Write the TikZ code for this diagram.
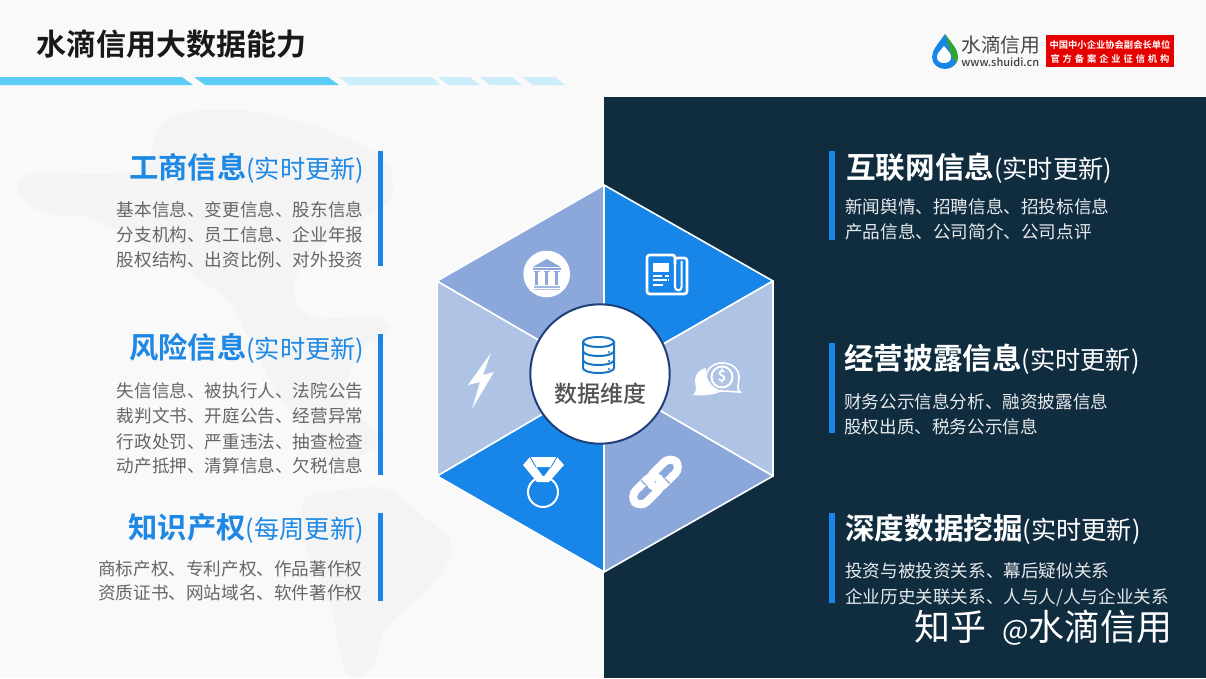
\documentclass[tikz,border=0pt]{standalone}
\usepackage{fontspec}
\setmainfont{Noto Sans CJK SC}
\newcommand{\px}[1]{\fontsize{\fpeval{#1*0.75}pt}{\fpeval{#1*0.9}pt}\selectfont}
\newcommand{\hb}{\fontspec{Noto Sans CJK SC Bold}}
\newcommand{\hr}{\fontspec{Noto Sans CJK SC}}
\definecolor{navy}{HTML}{102C3F}
\definecolor{bluea}{HTML}{1886E8}
\definecolor{blueb}{HTML}{8CA8DB}
\definecolor{bluec}{HTML}{AFC3E5}
\definecolor{ttl}{HTML}{1E88E5}
\definecolor{bgc}{HTML}{F9F9F9}
\definecolor{mapc}{HTML}{F4F4F4}
\definecolor{stripe}{HTML}{5BCDF5}
\definecolor{stripel}{HTML}{CDEDFB}
\definecolor{hubline}{HTML}{203F78}
\tikzset{
 face/.style={draw=white,line width=1.2pt,line join=round},
 head/.style={inner sep=0,anchor=base east,text=ttl},
 headr/.style={inner sep=0,anchor=base west,text=white},
 bodyl/.style={inner sep=0,anchor=base east,text=black!60},
 bodyr/.style={inner sep=0,anchor=base west,text=white!90!navy},
 barb/.style={fill=bluea,draw=none},
 dbl/.style={draw=ttl!85!black,line width=1.5pt,fill=none},
 mapb/.style={fill=mapc,rounded corners=12pt}
}
\begin{document}
\begin{tikzpicture}[x=0.75pt,y=-0.75pt]
\path[use as bounding box] (0,0) rectangle (1206,678);
\fill[bgc] (0,0) rectangle (1206,678);
% faint map
\fill[mapb] (10,185) -- (35,170) -- (100,175) -- (150,170) -- (155,125) -- (190,110) -- (250,110) -- (330,130) -- (390,160) -- (395,200) -- (350,225) -- (330,240) -- (300,265) -- (290,295) -- (310,320) -- (385,315) -- (395,335) -- (360,345) -- (340,400) -- (385,440) -- (340,470) -- (280,400) -- (230,300) -- (170,260) -- (90,215) -- (40,215) -- cycle;
\fill[mapb] (300,495) -- (385,485) -- (458,545) -- (430,590) -- (385,625) -- (370,678) -- (345,678) -- (330,600) -- (305,550) -- cycle;
% dark panel
\fill[navy] (604,97) rectangle (1206,678);
% title
\node[inner sep=0,anchor=base west,text=black!90] (title) at (36,55) {\px{30}\hb 水滴信用大数据能力};
% stripes
\fill[stripe] (0,77) -- (182,77) -- (193,85) -- (0,85) -- cycle;
\fill[stripe] (194,77) -- (328,77) -- (339,85) -- (205,85) -- cycle;
\fill[stripel] (339,77) -- (432,77) -- (440,85) -- (349,85) -- cycle;
\fill[stripel] (438,77) -- (470,77) -- (480,85) -- (448,85) -- cycle;
\fill[stripel] (480,77) -- (512,77) -- (522,85) -- (490,85) -- cycle;
\fill[stripel] (522,77) -- (555,77) -- (565,85) -- (533,85) -- cycle;
% logo
\fill[bluea] (945,34) .. controls (938,44) and (932,50) .. (932,57) .. controls (932,64) and (938,69) .. (945,69) .. controls (952,69) and (958,64) .. (958,57) .. controls (958,50) and (952,44) .. (945,34) -- cycle;
\fill[green!55!black!80] (945,34) .. controls (952,44) and (958,50) .. (958,57) .. controls (958,59) and (957.5,61) .. (956,63) -- (951,55) -- cycle;
\fill[white] (944,46) .. controls (941,50) and (937,53) .. (937,57) .. controls (937,61) and (940,63) .. (944,63) .. controls (948,63) and (951,61) .. (951,57) .. controls (951,53) and (947,50) .. (944,46) -- cycle;
\node[inner sep=0,anchor=base west,text=black!72] (logoa) at (961,52) {\px{19.8}水滴信用};
\node[inner sep=0,anchor=base west,text=black!75] (logob) at (961,66) {\px{11}\fontspec{Noto Sans CJK SC Medium}www.shuidi.cn};
\fill[red!90!black] (1046,35) rectangle (1174,67);
\node[inner sep=0,text=white] (logoc) at (1110,45) {\px{9.3}\hb 中国中小企业协会副会长单位};
\node[inner sep=0,text=white] (logod) at (1110,59) {\px{9.3}\hb\addfontfeature{LetterSpace=31}官方备案企业征信机构};
% hexagon
\coordinate (c) at (604,378);
\coordinate (h1) at (604,185);
\coordinate (h2) at (773,281);
\coordinate (h3) at (773,476);
\coordinate (h4) at (604,572);
\coordinate (h5) at (437,476);
\coordinate (h6) at (437,281);
\filldraw[face,fill=bluea] (c) -- (h1) -- (h2) -- cycle;
\filldraw[face,fill=bluec] (c) -- (h2) -- (h3) -- cycle;
\filldraw[face,fill=blueb] (c) -- (h3) -- (h4) -- cycle;
\filldraw[face,fill=bluea] (c) -- (h4) -- (h5) -- cycle;
\filldraw[face,fill=bluec] (c) -- (h5) -- (h6) -- cycle;
\filldraw[face,fill=blueb] (c) -- (h6) -- (h1) -- cycle;
\node[circle,draw=hubline,line width=1.5pt,fill=white,minimum size=104.5pt,inner sep=0] (hub) at (600,374) {};
\node[inner sep=0,text=black!68] (hubt) at (600.5,394) {\px{23}\fontspec{Noto Sans CJK SC Medium}数据维度};
% database icon
\begin{scope}[shift={(598.5,342)}]
\draw[dbl] (-15.5,0) -- (-15.5,26) arc[start angle=180,end angle=0,x radius=15.5,y radius=5] -- (15.5,0);
\draw[dbl] (0,0) ellipse[x radius=15.5,y radius=5];
\draw[dbl] (-15.5,9) arc[start angle=180,end angle=0,x radius=15.5,y radius=5];
\draw[dbl] (-15.5,18) arc[start angle=180,end angle=0,x radius=15.5,y radius=5];
\foreach \yy in {10,19,27} \fill[ttl!85!black] (10.5,\yy) circle (1.2);
\end{scope}
% bank
\node[circle,fill=white,minimum size=35pt,inner sep=0] (bank) at (546.7,274) {};
\begin{scope}[shift={(546.7,274)}]
\fill[blueb] (0,-15) -- (14,-7) -- (-14,-7) -- cycle;
\fill[blueb] (-14,-6) rectangle (14,-4);
\foreach \xx in {-10,0,10} {
  \fill[blueb] (\xx-1.5,-3) rectangle (\xx+1.5,11);
  \fill[blueb] (\xx-3,-3) rectangle (\xx+3,-1.8);
}
\fill[blueb!80] (-13,12) rectangle (13,13.5);
\fill[blueb!70] (-13,15) rectangle (13,16);
\end{scope}
% newspaper
\begin{scope}[shift={(666.5,274)}]
\draw[white,line width=2pt,rounded corners=2pt] (8.5,-10) -- (8.5,-19) -- (-19.5,-19) -- (-19.5,20) -- (20.5,20) -- (20.5,-16) -- (8.5,-16);
\draw[white,line width=1.6pt] (8.5,-16) -- (8.5,13) arc[start angle=180,end angle=0,radius=3.3] -- (15.1,-13);
\fill[white] (-13.5,-11) rectangle (2.5,-2);
\foreach \yy/\xa/\xb in {1/-13.5/-5,1/-2/2.5,5/-13.5/0,5/1/2.5,10/-13.5/-4}
  \fill[white] (\xa,\yy) rectangle (\xb,\yy+2);
\end{scope}
% chat with dollar
\begin{scope}[shift={(718,378)}]
\fill[white] (-25,17) .. controls (-20,13) and (-23,7) .. (-23,2) .. controls (-23,-4) and (-18,-9) .. (-12,-10) .. controls (-13,-1) and (-8,10) .. (4,13) .. controls (-4,17) and (-14,18) .. (-25,17) -- cycle;
\draw[white,line width=1.2pt] (22,14) .. controls (18,11) and (21,6) .. (21,-1) .. controls (21,-9) and (14,-15) .. (4,-15) .. controls (-6,-15) and (-12,-8) .. (-12,0) .. controls (-12,8) and (-5,13) .. (4,13) .. controls (10,13) and (16,14) .. (22,14) -- cycle;
\draw[white,line width=1.5pt] (4,-1) circle (10.5);
\node[inner sep=0,text=white] (dollar) at (4,-1.5) {\px{15}\hb\$};
\end{scope}
% lightning
\fill[white] (491,353) -- (468,385) -- (480,382) -- (472,409) -- (494,372) -- (483,375) -- cycle;
% medal
\fill[white,even odd rule] (523,465) -- (530,457) -- (557,457) -- (564,465) -- (549,482) -- (537,482) -- cycle (536,467) -- (551,467) -- (543.5,477) -- cycle;
\draw[bluea,line width=0.6pt] (530,457) -- (536,467) (557,457) -- (551,467);
\draw[white,line width=1.5pt] (543,492) circle (15);
% chain
\begin{scope}[shift={(655.5,482)},rotate=45]
\draw[white,line width=6pt,rounded corners=7pt] (-29,-8) rectangle (5,8);
\draw[white,line width=6pt,rounded corners=7pt] (-5,-8) rectangle (29,8);
\draw[blueb,line width=1pt] (-9,-4.5) -- (-9,-11.5);
\draw[blueb,line width=1pt] (9,4.5) -- (9,11.5);
\end{scope}
% left column
\fill[barb] (378,151) rectangle (383,266);
\fill[barb] (378,334) rectangle (383,475);
\fill[barb] (378,513) rectangle (383,601);
\node[head] (la) at (364.5,178) {\px{29.3}\hb 工商信息\hr\px{25.2}(实时更新)};
\node[bodyl] (la1) at (363.5,216) {\px{17.6}基本信息、变更信息、股东信息};
\node[bodyl] (la2) at (363.5,241) {\px{17.6}分支机构、员工信息、企业年报};
\node[bodyl] (la3) at (363.5,266) {\px{17.6}股权结构、出资比例、对外投资};
\node[head] (lb) at (364.5,358) {\px{29.3}\hb 风险信息\hr\px{25.2}(实时更新)};
\node[bodyl] (lb1) at (363.5,397) {\px{17.6}失信信息、被执行人、法院公告};
\node[bodyl] (lb2) at (363.5,422) {\px{17.6}裁判文书、开庭公告、经营异常};
\node[bodyl] (lb3) at (363.5,448) {\px{17.6}行政处罚、严重违法、抽查检查};
\node[bodyl] (lb4) at (363.5,472) {\px{17.6}动产抵押、清算信息、欠税信息};
\node[head] (lc) at (364,538) {\px{29.3}\hb 知识产权\hr\px{25.2}(每周更新)};
\node[bodyl] (lc1) at (362.5,575) {\px{17.6}商标产权、专利产权、作品著作权};
\node[bodyl] (lc2) at (362.5,599) {\px{17.6}资质证书、网站域名、软件著作权};
% right column
\fill[barb] (829,151) rectangle (835,240);
\fill[barb] (829,343) rectangle (835,433);
\fill[barb] (829,513) rectangle (835,603);
\node[headr] (ra) at (846,178) {\px{29.6}\hb 互联网信息\hr\px{25.2}(实时更新)};
\node[bodyr] (ra1) at (845,213) {\px{17.6}新闻舆情、招聘信息、招投标信息};
\node[bodyr] (ra2) at (845,238) {\px{17.6}产品信息、公司简介、公司点评};
\node[headr] (rb) at (844,369) {\px{29.6}\hb 经营披露信息\hr\px{25.2}(实时更新)};
\node[bodyr] (rb1) at (844,408) {\px{17.6}财务公示信息分析、融资披露信息};
\node[bodyr] (rb2) at (844,433) {\px{17.6}股权出质、税务公示信息};
\node[headr] (rc) at (845,539) {\px{29.6}\hb 深度数据挖掘\hr\px{25.2}(实时更新)};
\node[bodyr] (rc1) at (845,577) {\px{17.6}投资与被投资关系、幕后疑似关系};
\node[bodyr] (rc2) at (845,603) {\px{17.6}企业历史关联关系、人与人/人与企业关系};
% watermark
\node[inner sep=0,anchor=base west,text=white] (wm) at (914,640) {\px{36}知乎\hspace{12pt}\px{28}@\px{36}水滴信用};
\end{tikzpicture}
\end{document}
